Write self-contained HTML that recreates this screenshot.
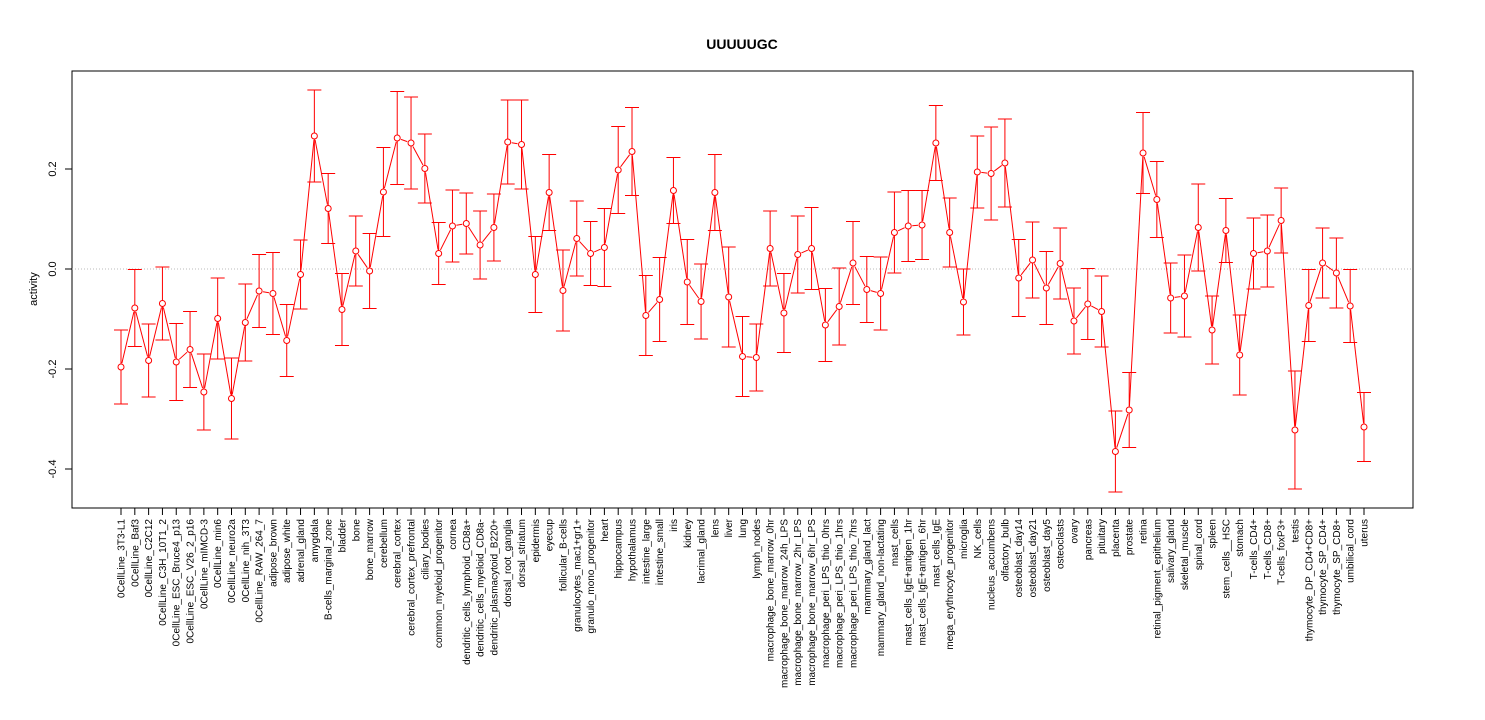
<!DOCTYPE html>
<html><head><meta charset="utf-8"><style>
body{margin:0;background:#fff}
svg{display:block;font-family:"Liberation Sans",Arial,sans-serif}
</style></head><body>
<svg id="chart" width="1485" height="720" xmlns="http://www.w3.org/2000/svg">
<rect x="0" y="0" width="1485" height="720" fill="#fff"/>
<text x="742" y="49" text-anchor="middle" font-weight="bold" font-size="14">UUUUUGC</text>
<rect x="72" y="71" width="1341" height="437" fill="none" stroke="#000" stroke-width="1"/>
<text transform="translate(37,289) rotate(-90)" text-anchor="middle" font-size="11">activity</text>
<g id="yaxis"></g>
<g id="marks"></g>
<g id="xlabels"></g>
</svg>
<script>
const categories=["0CellLine_3T3-L1","0CellLine_Baf3","0CellLine_C2C12","0CellLine_C3H_10T1_2","0CellLine_ESC_Bruce4_p13","0CellLine_ESC_V26_2_p16","0CellLine_mIMCD-3","0CellLine_min6","0CellLine_neuro2a","0CellLine_nih_3T3","0CellLine_RAW_264_7","adipose_brown","adipose_white","adrenal_gland","amygdala","B-cells_marginal_zone","bladder","bone","bone_marrow","cerebellum","cerebral_cortex","cerebral_cortex_prefrontal","ciliary_bodies","common_myeloid_progenitor","cornea","dendritic_cells_lymphoid_CD8a+","dendritic_cells_myeloid_CD8a-","dendritic_plasmacytoid_B220+","dorsal_root_ganglia","dorsal_striatum","epidermis","eyecup","follicular_B-cells","granulocytes_mac1+gr1+","granulo_mono_progenitor","heart","hippocampus","hypothalamus","intestine_large","intestine_small","iris","kidney","lacrimal_gland","lens","liver","lung","lymph_nodes","macrophage_bone_marrow_0hr","macrophage_bone_marrow_24h_LPS","macrophage_bone_marrow_2hr_LPS","macrophage_bone_marrow_6hr_LPS","macrophage_peri_LPS_thio_0hrs","macrophage_peri_LPS_thio_1hrs","macrophage_peri_LPS_thio_7hrs","mammary_gland_lact","mammary_gland_non-lactating","mast_cells","mast_cells_IgE+antigen_1hr","mast_cells_IgE+antigen_6hr","mast_cells_IgE","mega_erythrocyte_progenitor","microglia","NK_cells","nucleus_accumbens","olfactory_bulb","osteoblast_day14","osteoblast_day21","osteoblast_day5","osteoclasts","ovary","pancreas","pituitary","placenta","prostate","retina","retinal_pigment_epithelium","salivary_gland","skeletal_muscle","spinal_cord","spleen","stem_cells__HSC","stomach","T-cells_CD4+","T-cells_CD8+","T-cells_foxP3+","testis","thymocyte_DP_CD4+CD8+","thymocyte_SP_CD4+","thymocyte_SP_CD8+","umbilical_cord","uterus"];
const values=[-0.196,-0.078,-0.183,-0.069,-0.186,-0.161,-0.246,-0.099,-0.259,-0.107,-0.044,-0.049,-0.143,-0.011,0.266,0.121,-0.081,0.036,-0.004,0.154,0.262,0.252,0.201,0.031,0.086,0.091,0.048,0.083,0.254,0.249,-0.011,0.153,-0.043,0.061,0.031,0.043,0.198,0.235,-0.093,-0.061,0.157,-0.026,-0.065,0.153,-0.056,-0.175,-0.177,0.041,-0.088,0.029,0.041,-0.112,-0.075,0.012,-0.041,-0.049,0.073,0.086,0.088,0.252,0.073,-0.066,0.194,0.191,0.212,-0.018,0.018,-0.038,0.011,-0.104,-0.070,-0.085,-0.365,-0.282,0.232,0.139,-0.058,-0.054,0.083,-0.122,0.077,-0.172,0.031,0.036,0.097,-0.322,-0.073,0.012,-0.008,-0.074,-0.316];
const errors=[0.074,0.077,0.073,0.073,0.077,0.076,0.076,0.081,0.081,0.077,0.073,0.082,0.072,0.069,0.092,0.070,0.072,0.070,0.075,0.089,0.093,0.092,0.069,0.062,0.072,0.061,0.068,0.067,0.084,0.089,0.076,0.076,0.081,0.075,0.064,0.078,0.087,0.088,0.080,0.084,0.066,0.085,0.075,0.076,0.100,0.080,0.067,0.075,0.079,0.077,0.082,0.073,0.077,0.083,0.066,0.073,0.081,0.071,0.069,0.075,0.069,0.066,0.072,0.093,0.088,0.077,0.076,0.073,0.071,0.066,0.071,0.071,0.081,0.075,0.081,0.076,0.070,0.082,0.087,0.068,0.064,0.080,0.071,0.072,0.065,0.118,0.072,0.070,0.070,0.073,0.069];
const yTicks=[-0.4,-0.2,0.0,0.2];
const yTickLabels=["-0.4","-0.2","0.0","0.2"];

const NS="http://www.w3.org/2000/svg";
const x=i=>121+i*(1364-121)/(categories.length-1);
const y=v=>269-v*500;
function mk(tag,attrs,parent){const e=document.createElementNS(NS,tag);for(const k in attrs)e.setAttribute(k,attrs[k]);parent.appendChild(e);return e;}
const ya=document.getElementById('yaxis'),mg=document.getElementById('marks'),xl=document.getElementById('xlabels');
mk('line',{x1:72,x2:72,y1:y(-0.4),y2:y(0.2),stroke:'#000'},ya);
yTicks.forEach((t,i)=>{
  const tk=mk('line',{x1:65,x2:72,y1:y(t),y2:y(t),stroke:'#000'},ya);
  
  
  const tl=mk('text',{transform:`translate(56,${y(t)}) rotate(-90)`,'text-anchor':'middle','font-size':11},ya);
  tl.textContent=yTickLabels[i];
  
  
});
const zl=mk('line',{x1:72,x2:1413,y1:y(0),y2:y(0),stroke:'#bbb','stroke-dasharray':'1,2'},mg);


const r=3;
for(let i=0;i<values.length-1;i++){
  const x1=x(i),y1=y(values[i]),x2=x(i+1),y2=y(values[i+1]);
  const dx=x2-x1,dy=y2-y1,L=Math.hypot(dx,dy);
  if(L<2*r+1)continue;
  const ux=dx/L,uy=dy/L;
  const s=mk('line',{x1:x1+ux*(r+1),y1:y1+uy*(r+1),x2:x2-ux*(r+1),y2:y2-uy*(r+1),stroke:'#f00','stroke-width':1},mg);
  
  
}
values.forEach((v,i)=>{
  const cx=x(i),hi=y(v+errors[i]),lo=y(v-errors[i]);
  const eb=mk('path',{d:`M${cx},${hi}V${lo}M${cx-7},${hi}H${cx+7}M${cx-7},${lo}H${cx+7}`,stroke:'#f00',fill:'none','stroke-width':1},mg);
  
  
  const c=mk('circle',{cx:cx,cy:y(v),r:r,fill:'#fff',stroke:'#f00','stroke-width':1},mg);
  
  
  const tk=mk('line',{x1:cx,x2:cx,y1:508,y2:515,stroke:'#000'},xl);
  
  
  const t=mk('text',{transform:`translate(${cx+3.5},519) rotate(-90)`,'text-anchor':'end','font-size':10},xl);
  t.textContent=categories[i];
  
  
});
mk('line',{x1:x(0),x2:x(categories.length-1),y1:508,y2:508,stroke:'#000'},xl);
</script>
</body></html>
